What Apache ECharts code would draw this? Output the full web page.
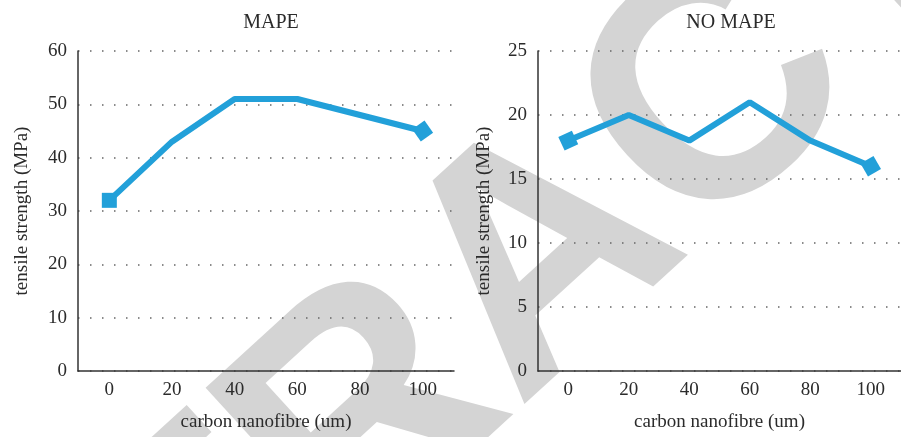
<!DOCTYPE html>
<html>
<head>
<meta charset="utf-8">
<script src="https://cdn.jsdelivr.net/npm/echarts@6/dist/echarts.min.js"></script>
<style>
  html, body { margin: 0; padding: 0; background: #fff; }
  #main { width: 901px; height: 437px; }
</style>
</head>
<body>
<div id="main"></div>
<script>
  // data
  const categories = ["0", "20", "40", "60", "80", "100"];
  const mapeValues = [32, 43, 51, 51, 48, 45];
  const noMapeValues = [18, 20, 18, 21, 18, 16];
  const panelTitles = ["MAPE", "NO MAPE"];
  const xName = "carbon nanofibre (um)";
  const yName = "tensile strength (MPa)";

  const blue = "#22a0d9";
  const serif = "Liberation Serif";
  const txt = "#2b2b2b";

  let myChart = echarts.init(document.getElementById("main"));

  // end markers only, tilted like the original
  const markRot = [[0, 35], [25, 30]];
  function endSize(n) {
    return (v, p) => (p.dataIndex === 0 || p.dataIndex === n - 1 ? 15 : 0);
  }
  function endRot(r, n) {
    return (v, p) => (p.dataIndex === 0 ? r[0] : p.dataIndex === n - 1 ? r[1] : 0);
  }

  function xAxis(i) {
    return {
      type: "category",
      gridIndex: i,
      data: categories,
      boundaryGap: true,
      name: xName,
      nameLocation: "middle",
      nameGap: 42,
      nameTextStyle: { fontFamily: serif, fontSize: 19, color: txt },
      axisLine: { lineStyle: { color: "#333", width: 1.5 } },
      axisTick: { show: false },
      axisLabel: { fontFamily: serif, fontSize: 19, color: txt, margin: 10 },
    };
  }
  function yAxis(i, max, step) {
    return {
      type: "value",
      gridIndex: i,
      min: 0,
      max: max,
      interval: step,
      name: yName,
      nameLocation: "middle",
      nameGap: i === 0 ? 46 : 44,
      nameTextStyle: { fontFamily: serif, fontSize: 19, color: txt },
      axisLine: { show: true, lineStyle: { color: "#333", width: 1.5 } },
      axisTick: { show: false },
      axisLabel: { fontFamily: serif, fontSize: 19, color: txt, margin: 11 },
      splitLine: { lineStyle: { color: "#666", width: 1.5, type: [1.5, 10.5] } },
    };
  }
  function line(i, vals) {
    return {
      type: "line",
      xAxisIndex: i,
      yAxisIndex: i,
      data: vals,
      symbol: "rect",
      showAllSymbol: true,
      symbolSize: endSize(vals.length),
      symbolRotate: endRot(markRot[i], vals.length),
      lineStyle: { color: blue, width: 6 },
      itemStyle: { color: blue },
      z: 5,
    };
  }

  let option = {
    animation: false,
    backgroundColor: "#fff",
    title: panelTitles.map((t, i) => ({
      text: t,
      left: i === 0 ? 266 : 726,
      textAlign: "center",
      top: 8,
      textStyle: { fontFamily: serif, fontSize: 20, fontWeight: "normal", color: txt },
    })),
    graphic: [
      {
        type: "text",
        z: -10,
        x: 545,
        y: 262,
        rotation: 0.74,
        silent: true,
        style: {
          text: "RETRACTED",
          font: 'bold 330px "Liberation Sans"',
          fill: "#d4d4d4",
          align: "center",
          verticalAlign: "middle",
        },
      },
    ],
    grid: [
      { left: 78, top: 51, width: 376, height: 320 },
      { left: 538, top: 51, width: 377, height: 320 },
    ],
    xAxis: [xAxis(0), xAxis(1)],
    yAxis: [yAxis(0, 60, 10), yAxis(1, 25, 5)],
    series: [line(0, mapeValues), line(1, noMapeValues)],
  };

  myChart.setOption(option);
</script>
</body>
</html>
